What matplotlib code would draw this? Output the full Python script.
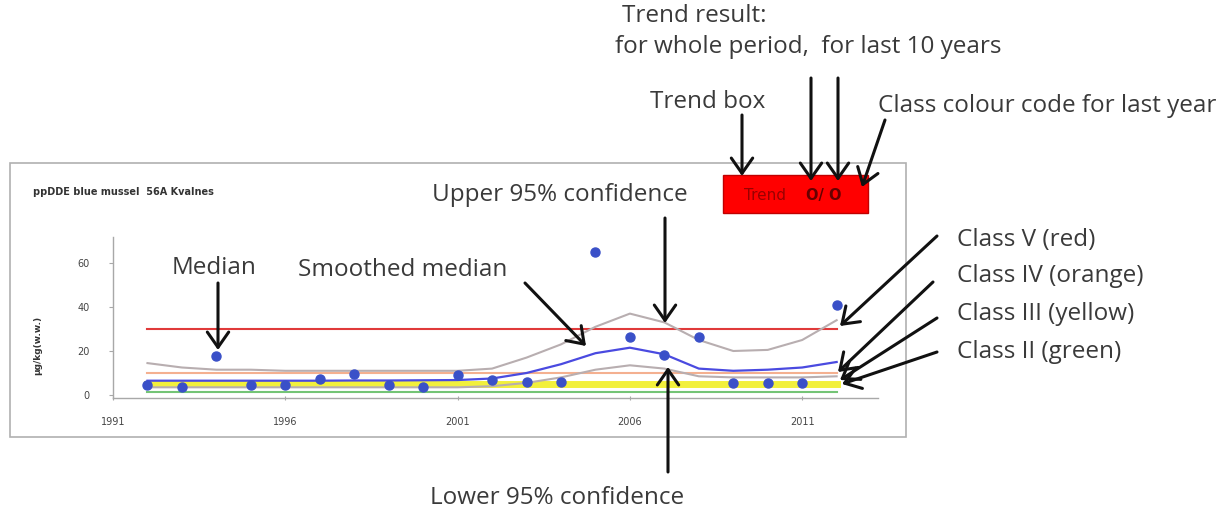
import numpy as np
import matplotlib
matplotlib.use("Agg")
import matplotlib.pyplot as plt
from matplotlib.patches import FancyArrowPatch, Rectangle

W, H = 1225, 515

# data
years = [1992, 1993, 1994, 1995, 1996, 1997, 1998, 1999, 2000, 2001, 2002,
         2003, 2004, 2005, 2006, 2007, 2008, 2009, 2010, 2011, 2012]
median = [4.5, 3.6, 17.7, 4.5, 4.5, 7.3, 9.5, 4.5, 3.6, 9.0, 6.8,
          6.0, 6.0, 65.0, 26.4, 18.0, 26.4, 5.5, 5.5, 5.5, 41.0]
smooth = [6.5, 6.5, 6.5, 6.5, 6.5, 6.5, 6.6, 6.6, 6.7, 6.8, 7.5,
          10.0, 14.0, 19.0, 21.5, 18.5, 12.0, 11.0, 11.5, 12.5, 15.0]
upper = [14.5, 12.5, 11.5, 11.5, 11.0, 11.0, 11.0, 11.0, 11.0, 11.0, 12.0,
         17.0, 23.0, 31.0, 37.0, 33.0, 25.0, 20.0, 20.5, 25.0, 34.0]
lower = [3.5, 3.5, 3.5, 3.5, 3.5, 3.5, 3.5, 3.5, 3.5, 3.5, 4.0,
         5.5, 8.0, 11.5, 13.5, 12.0, 8.5, 8.0, 8.0, 8.0, 8.5]
class_limits = [1.5, 5, 10, 30]
class_colors = ["#74c476", "#f2f03c", "#f4b090", "#e03a3a"]
class_widths = [1.5, 5, 1.5, 1.5]
xticks = [1991, 1996, 2001, 2006, 2011]
yticks = [0, 20, 40, 60]


def P(x, y):
    # pixel (from top-left) -> figure fraction
    return (x / W, 1 - y / H)


fig = plt.figure(figsize=(W / 100, H / 100), dpi=100)
fig.patch.set_facecolor("white")

# chart frame
fig.add_artist(Rectangle(P(10, 437), 896 / W, 274 / H, transform=fig.transFigure,
                         fill=False, edgecolor="#b0b0b0", lw=1.2))

x0, x1 = 1991, 2013.2
y0, y1 = -1.5, 72
ax = fig.add_axes([113 / W, 1 - 398.3 / H, (878 - 113) / W, (398.3 - 236.6) / H])
ax.set_xlim(x0, x1)
ax.set_ylim(y0, y1)
ax.patch.set_alpha(0)

for lim, c, w in zip(class_limits, class_colors, class_widths):
    ax.plot([years[0], years[-1]], [lim, lim], color=c, lw=w, zorder=2)
ax.plot(years, upper, color="#b8aeb0", lw=1.5, zorder=3)
ax.plot(years, lower, color="#b8aeb0", lw=1.5, zorder=3)
ax.plot(years, smooth, color="#4a4ae0", lw=1.6, zorder=4)
ax.plot(years, median, "o", color="#3a50c8", ms=6.5, zorder=5)

for s in ["top", "right"]:
    ax.spines[s].set_visible(False)
for s in ["left", "bottom"]:
    ax.spines[s].set_color("#a8a8a8")
    ax.spines[s].set_linewidth(1)
ax.set_xticks(xticks)
ax.set_yticks(yticks)
ax.tick_params(axis="both", colors="#a8a8a8", labelcolor="#444444",
               labelsize=7, length=3)
ax.tick_params(axis="x", direction="inout", pad=12)
ax.tick_params(axis="y", pad=14)

fig.text(*P(33, 192), "ppDDE blue mussel  56A Kvalnes", fontsize=7,
         fontweight="bold", color="#333333", va="center", ha="left")
fig.text(*P(38, 345), "\u00b5g/kg(w.w.)", fontsize=6.5, fontweight="bold",
         color="#333333", rotation=90, va="center", ha="center")

# trend box
fig.add_artist(Rectangle(P(723, 213), 145 / W, 38 / H, transform=fig.transFigure,
                         facecolor="#ff0000", edgecolor="#c00000", lw=1))
fig.text(*P(744, 196), "Trend", fontsize=11, color="#990000", va="center", ha="left")
fig.text(*P(806, 196), "O/ O", fontsize=10.5, fontweight="bold", color="#660000",
         va="center", ha="left")

labels = [
    ("Trend result:", 622, 16),
    ("for whole period,  for last 10 years", 615, 47),
    ("Trend box", 650, 102),
    ("Class colour code for last year", 878, 106),
    ("Upper 95% confidence", 432, 195),
    ("Median", 172, 268),
    ("Smoothed median", 298, 270),
    ("Class V (red)", 957, 240),
    ("Class IV (orange)", 957, 276),
    ("Class III (yellow)", 957, 314),
    ("Class II (green)", 957, 352),
    ("Lower 95% confidence", 430, 498),
]
for txt, x, y in labels:
    fig.text(*P(x, y), txt, fontsize=17.5, family="Open Sans", color="#3a3a3a",
             va="center", ha="left")

arrows = [
    ((742, 115), (742, 176)),
    ((811, 78), (811, 181)),
    ((838, 78), (838, 181)),
    ((885, 120), (862, 187)),
    ((665, 218), (665, 323)),
    ((218, 283), (218, 350)),
    ((525, 283), (586, 346)),
    ((668, 472), (668, 367)),
    ((937, 236), (840, 326)),
    ((933, 282), (838, 372)),
    ((937, 318), (840, 380)),
    ((937, 352), (842, 384)),
]
for a, b in arrows:
    fig.add_artist(FancyArrowPatch(P(*a), P(*b), transform=fig.transFigure,
                                   arrowstyle="->,head_length=0.5,head_width=0.35",
                                   mutation_scale=22, lw=2.2, color="#111111",
                                   shrinkA=0, shrinkB=0))

fig.savefig("out.png", dpi=100)
